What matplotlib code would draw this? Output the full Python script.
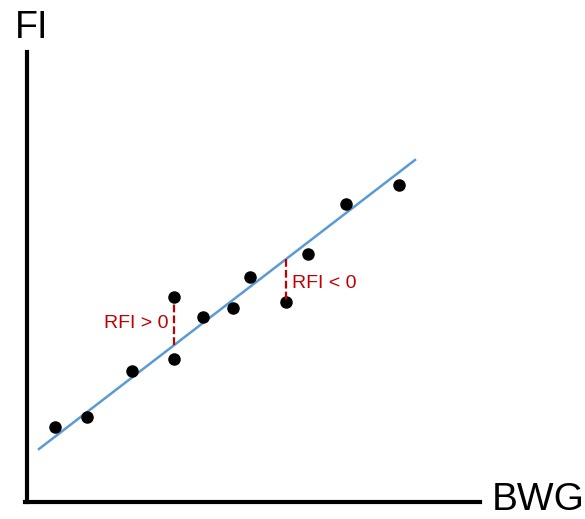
import matplotlib.pyplot as plt
import numpy as np

# data (arbitrary units, origin at the axis corner)
bwg = [28, 60, 105, 147, 147, 176, 206, 223, 259, 281, 319, 372]
fi = [75, 85, 131, 205, 143, 185, 194, 225, 200, 248, 298, 317]
line_x = [12, 388]
slope = 0.7686
intercept = 43.8
# residual examples: (x, observed fi)
rfi_pos = (147, 205)
rfi_neg = (259, 207)

plt.rcParams['font.family'] = ['Liberation Sans', 'DejaVu Sans']

fig = plt.figure(figsize=(5.85, 5.19), dpi=100)
ax = fig.add_axes([0, 0, 1, 1])
ax.set_xlim(-27, 558)
ax.set_ylim(-17, 502)

for s in ['top', 'right']:
    ax.spines[s].set_visible(False)
ax.spines['left'].set_position(('data', 0))
ax.spines['bottom'].set_position(('data', 0))
ax.spines['left'].set_bounds(0, 450)
ax.spines['bottom'].set_bounds(-2.1, 453)
ax.spines['left'].set_linewidth(3)
ax.spines['bottom'].set_linewidth(3)
ax.set_xticks([])
ax.set_yticks([])
ax.patch.set_visible(False)

lx = np.array(line_x)
ax.plot(lx, intercept + slope * lx, color='#5B9BD5', lw=1.8)
ax.plot(bwg, fi, 'o', color='black', ms=8)

# residual segments
x, y = rfi_pos
ax.plot([x, x], [intercept + slope * x, y - 7], color='#C00000', lw=1.6, ls=(0, (3.5, 1.4)))
x, y = rfi_neg
ax.plot([x, x], [intercept + slope * x, y - 7], color='#C00000', lw=1.6, ls=(0, (3.5, 1.4)))

ax.text(141, 179, 'RFI > 0', color='#C00000', fontsize=14, ha='right', va='center')
ax.text(265, 219, 'RFI < 0', color='#C00000', fontsize=14, ha='left', va='center')

ax.text(-12, 474, 'FI', fontsize=27, ha='left', va='center')
ax.text(465, 2, 'BWG', fontsize=28, ha='left', va='center')

fig.savefig('out.png', dpi=100)
